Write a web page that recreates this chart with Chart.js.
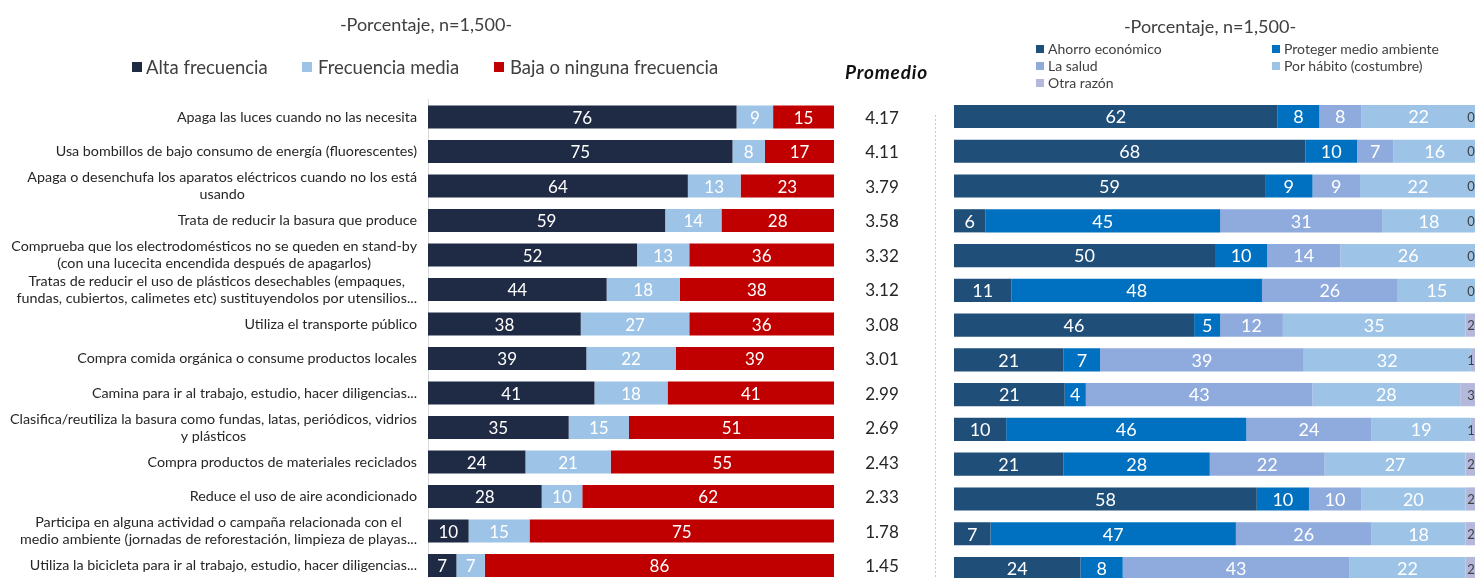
<!DOCTYPE html>
<html>
<head>
<meta charset="utf-8">
<script src="https://cdn.jsdelivr.net/npm/chart.js@4"></script>
<style>
html, body { margin: 0; padding: 0; background: #fff; overflow: hidden; }
#wrap { position: relative; width: 1475px; height: 578px; overflow: hidden; font-family: Lato, sans-serif; color: #404040; }
canvas { position: absolute; top: 0; }
.txt { position: absolute; white-space: nowrap; }
.sq { position: absolute; }
</style>
</head>
<body>
<div id="wrap">
  <canvas id="frecuencia" width="945" height="620" style="left:0"></canvas>
  <canvas id="razones" width="560" height="620" style="left:940px"></canvas>

  <div class="txt" style="left:0;width:852px;top:13px;text-align:center;font-size:18px;">-Porcentaje, n=1,500-</div>
  <div id="leyendaIzq" style="position:absolute;left:0;top:56px;font-size:18.5px;"></div>
  <div class="txt" style="left:845px;top:60px;font-size:19px;letter-spacing:0.8px;font-weight:bold;font-style:italic;color:#111;">Promedio</div>

  <div class="txt" style="left:1036px;width:348px;top:15px;text-align:center;font-size:18px;">-Porcentaje, n=1,500-</div>
  <div id="leyendaDer" style="position:absolute;left:1036px;top:40px;font-size:14px;"></div>
</div>
<script>
const actividades = [
  'Apaga las luces cuando no las necesita',
  'Usa bombillos de bajo consumo de energía (fluorescentes)',
  ['Apaga o desenchufa los aparatos eléctricos cuando no los está', 'usando'],
  'Trata de reducir la basura que produce',
  ['Comprueba que los electrodomésticos no se queden en stand-by', '(con una lucecita encendida después de apagarlos)'],
  ['Tratas de reducir el uso de plásticos desechables (empaques,', 'fundas, cubiertos, calimetes etc) sustituyendolos por utensilios...'],
  'Utiliza el transporte público',
  'Compra comida orgánica o consume productos locales',
  'Camina para ir al trabajo, estudio, hacer diligencias...',
  ['Clasifica/reutiliza la basura como fundas, latas, periódicos, vidrios', 'y plásticos'],
  'Compra productos de materiales reciclados',
  'Reduce el uso de aire acondicionado',
  ['Participa en alguna actividad o campaña relacionada con el', 'medio ambiente (jornadas de reforestación, limpieza de playas...'],
  'Utiliza la bicicleta para ir al trabajo, estudio, hacer diligencias...'
];

const altaFrecuencia  = [76, 75, 64, 59, 52, 44, 38, 39, 41, 35, 24, 28, 10, 7];
const frecuenciaMedia = [9, 8, 13, 14, 13, 18, 27, 22, 18, 15, 21, 10, 15, 7];
const bajaFrecuencia  = [15, 17, 23, 28, 36, 38, 36, 39, 41, 51, 55, 62, 75, 86];
const promedio = ['4.17', '4.11', '3.79', '3.58', '3.32', '3.12', '3.08', '3.01', '2.99', '2.69', '2.43', '2.33', '1.78', '1.45'];

const ahorroEconomico  = [62, 68, 59, 6, 50, 11, 46, 21, 21, 10, 21, 58, 7, 24];
const protegerAmbiente = [8, 10, 9, 45, 10, 48, 5, 7, 4, 46, 28, 10, 47, 8];
const laSalud          = [8, 7, 9, 31, 14, 26, 12, 39, 43, 24, 22, 10, 26, 43];
const porHabito        = [22, 16, 22, 18, 26, 15, 35, 32, 28, 19, 27, 20, 18, 22];
const otraRazon        = [0, 0, 0, 0, 0, 0, 2, 1, 3, 1, 2, 2, 2, 2];

const seriesIzq = [
  { nombre: 'Alta frecuencia', valores: altaFrecuencia, color: '#1f2a44' },
  { nombre: 'Frecuencia media', valores: frecuenciaMedia, color: '#9dc3e6' },
  { nombre: 'Baja o ninguna frecuencia', valores: bajaFrecuencia, color: '#c00000' }
];
const seriesDer = [
  { nombre: 'Ahorro económico', valores: ahorroEconomico, color: '#1f4e79' },
  { nombre: 'Proteger medio ambiente', valores: protegerAmbiente, color: '#0070c0' },
  { nombre: 'La salud', valores: laSalud, color: '#8faadc' },
  { nombre: 'Por hábito (costumbre)', valores: porHabito, color: '#9dc3e6' },
  { nombre: 'Otra razón', valores: otraRazon, color: '#b4b9dc' }
];

// barras al 100%: cada fila se reparte sobre su total
function aDatasets(series) {
  const totales = actividades.map((_, i) => series.reduce((s, d) => s + d.valores[i], 0));
  return series.map(d => ({
    label: d.nombre,
    data: d.valores.map((v, i) => v / totales[i] * 100),
    etiquetas: d.valores,
    backgroundColor: d.color,
    borderWidth: 0,
    barPercentage: 0.667,
    categoryPercentage: 1
  }));
}

// leyendas
const xLeyendaIzq = [132, 302, 494];
document.getElementById('leyendaIzq').innerHTML = seriesIzq.map((d, i) =>
  '<span class="sq" style="left:' + xLeyendaIzq[i] + 'px;top:6px;width:10px;height:10px;background:' + d.color + '"></span>' +
  '<span class="txt" style="left:' + (xLeyendaIzq[i] + 14 + (i ? 2 : 0)) + 'px;top:0">' + d.nombre + '</span>'
).join('');
document.getElementById('leyendaDer').innerHTML = seriesDer.map((d, i) =>
  '<div style="position:absolute;white-space:nowrap;left:' + (i % 2 ? 236 : 0) + 'px;top:' + (Math.floor(i / 2) * 17) + 'px">' +
  '<span style="display:inline-block;vertical-align:middle;width:8px;height:8px;background:' + d.color + ';margin-right:4px;margin-top:-2px"></span>' + d.nombre + '</div>'
).join('');

const etiquetasBarras = {
  id: 'etiquetasBarras',
  afterDatasetsDraw(chart) {
    const ctx = chart.ctx;
    ctx.save();
    ctx.textBaseline = 'middle';
    ctx.textAlign = 'center';
    chart.data.datasets.forEach((ds, di) => {
      const meta = chart.getDatasetMeta(di);
      const ultima = chart.options.ultimaFuera && di == chart.data.datasets.length - 1;
      meta.data.forEach((bar, i) => {
        const v = ds.etiquetas[i];
        if (ultima) {
          ctx.font = '13px Lato';
          ctx.fillStyle = '#404040';
          ctx.fillText(String(v), bar.x - 5, bar.y + 1);
        } else if (v > 0) {
          ctx.font = chart.options.tamEtiqueta + 'px Lato';
          ctx.fillStyle = '#ffffff';
          ctx.fillText(String(v), (bar.x + bar.base) / 2, bar.y + 1);
        }
      });
    });
    ctx.restore();
  }
};

const textosIzq = {
  id: 'textosIzq',
  afterDraw(chart) {
    const ctx = chart.ctx;
    const y = chart.scales.y;
    ctx.save();
    ctx.textBaseline = 'middle';
    ctx.fillStyle = '#262626';
    actividades.forEach((lab, i) => {
      const lineas = Array.isArray(lab) ? lab : [lab];
      const yc = y.getPixelForValue(i);
      ctx.font = '14.3px Lato';
      const ancho = Math.max(...lineas.map(l => ctx.measureText(l).width));
      ctx.textAlign = 'center';
      lineas.forEach((l, k) => {
        ctx.fillText(l, 417 - ancho / 2, yc + (k - (lineas.length - 1) / 2) * 17);
      });
      ctx.font = '17px Lato';
      ctx.fillText(promedio[i], 882, yc + 1);
    });
    // separador punteado
    ctx.strokeStyle = '#c8c8c8';
    ctx.lineWidth = 1;
    ctx.setLineDash([2, 2]);
    ctx.beginPath();
    ctx.moveTo(935.5, 115);
    ctx.lineTo(935.5, 620);
    ctx.stroke();
    ctx.restore();
  }
};

new Chart(document.getElementById('frecuencia'), {
  type: 'bar',
  data: { labels: actividades.map((_, i) => i), datasets: aDatasets(seriesIzq) },
  options: {
    indexAxis: 'y',
    responsive: false,
    animation: false,
    tamEtiqueta: 17,
    layout: { padding: { top: 99.8, bottom: 37.2, left: 0, right: 111 } },
    scales: {
      x: { stacked: true, display: false, min: 0, max: 100 },
      y: {
        stacked: true,
        grid: { display: false },
        border: { display: true, color: '#d9d9d9' },
        ticks: { display: false },
        afterFit(s) { s.width = 428; }
      }
    },
    plugins: { legend: { display: false }, tooltip: { enabled: false } }
  },
  plugins: [etiquetasBarras, textosIzq]
});

new Chart(document.getElementById('razones'), {
  type: 'bar',
  data: { labels: actividades.map((_, i) => i), datasets: aDatasets(seriesDer) },
  options: {
    indexAxis: 'y',
    responsive: false,
    animation: false,
    ultimaFuera: true,
    tamEtiqueta: 18,
    layout: { padding: { top: 99.1, bottom: 34.1, left: 14, right: 24 } },
    scales: {
      x: { stacked: true, display: false, min: 0, max: 100 },
      y: { stacked: true, display: false }
    },
    plugins: { legend: { display: false }, tooltip: { enabled: false } }
  },
  plugins: [etiquetasBarras]
});
</script>
</body>
</html>
